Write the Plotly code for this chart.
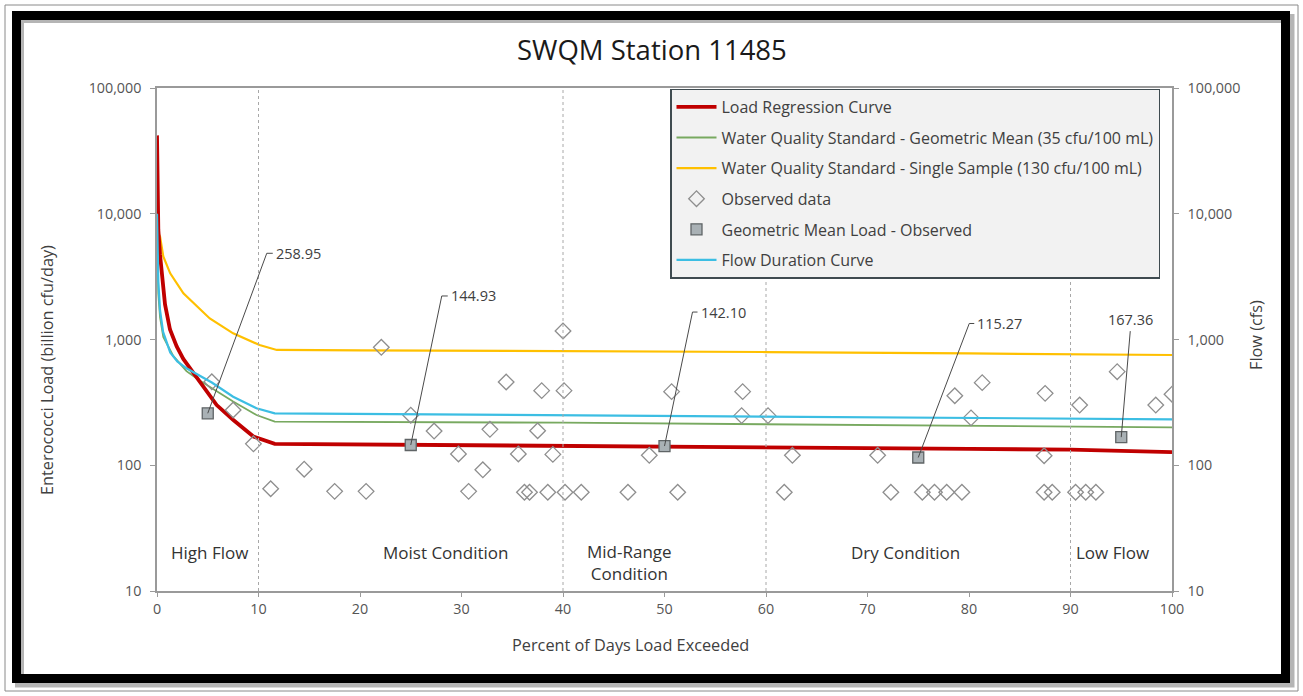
import math
import plotly.graph_objects as go

# ---------------- data ----------------
title_text = "SWQM Station 11485"

load_x = [0, 0.13, 0.3, 0.46, 0.79, 1.28, 1.94, 2.59, 3.58, 4.24, 5.88, 7.52, 9.5, 11.6, 20, 30, 40, 50, 60, 70, 80, 90, 100]
load_y = [42000, 7430, 4700, 3300, 1900, 1200, 880, 700, 540, 460, 301, 229, 169, 148, 146, 144, 142.5, 141, 139, 137, 135, 133, 127]

geo_x = [0, 0.13, 0.3, 0.62, 1.6, 2.9, 4.24, 5.9, 7.5, 9.8, 11.6, 40, 70, 100]
geo_y = [8900, 2300, 1500, 1050, 740, 560, 470, 385, 321, 251, 222, 218, 210, 200]

single_x = [0, 0.13, 0.3, 0.62, 1.3, 2.6, 5.2, 7.5, 10.1, 11.8, 20, 40, 60, 80, 100]
single_y = [33000, 7000, 6580, 4570, 3360, 2330, 1470, 1120, 904, 826, 820, 811, 795, 775, 753]

flow_x = [0, 0.13, 0.3, 0.6, 1.3, 2.0, 2.9, 4.24, 5.4, 7.5, 9.8, 11.6, 40, 70, 100]
flow_y = [10000, 2900, 1700, 1150, 790, 670, 590, 510, 455, 351, 284, 259, 251, 243, 232]

obs_x = [5.4, 7.5, 9.5, 11.2, 14.5, 17.5, 20.6, 22.1, 25.0, 27.3, 29.7, 30.7, 32.1, 32.8,
         34.4, 35.6, 36.2, 36.7, 37.5, 37.9, 38.5, 39.0, 40.0, 40.1, 40.2, 41.8, 46.4, 48.5,
         50.7, 51.3, 57.6, 57.7, 60.2, 61.8, 62.6, 71.0, 72.3, 75.4, 76.6, 77.8, 79.3, 78.6,
         80.2, 81.3, 87.5, 87.4, 87.4, 88.2, 90.5, 91.5, 92.5, 90.9, 94.6, 98.4, 100]
obs_y = [461, 275, 148, 65, 93, 62, 62, 867, 250, 187, 123, 62, 92, 193,
         459, 123, 61, 61, 188, 392, 61, 122, 1170, 392, 61, 61, 61, 120,
         385, 61, 248, 385, 248, 61, 120, 120, 61, 61, 61, 61, 61, 357,
         238, 454, 373, 119, 61, 61, 61, 61, 61, 301, 555, 301, 367]

gm_x = [5, 25, 50, 75, 95]
gm_y = [258.95, 144.93, 142.10, 115.27, 167.36]
gm_labels = ["258.95", "144.93", "142.10", "115.27", "167.36"]

zone_bounds = [10, 40, 60, 90]
zone_names = ["High Flow", "Moist Condition", "Mid-Range<br>Condition", "Dry Condition", "Low Flow"]
zone_label_x = [5.2, 28.4, 46.6, 73.7, 94.1]

x_ticks = [0, 10, 20, 30, 40, 50, 60, 70, 80, 90, 100]
y_ticks = [10, 100, 1000, 10000, 100000]
y_ticktext = ["10", "100", "1,000", "10,000", "100,000"]

# ---------------- layout geometry (pixels) ----------------
W, H = 1303, 696
L, R, T, B = 157, 1172, 88, 591
FONT = "Open Sans"
TXT = "#404040"


def px(xp):
    return (xp - L) / (R - L)


def py(yp):
    return (B - yp) / (B - T)


fig = go.Figure()

fig.add_trace(go.Scatter(x=single_x, y=single_y, mode="lines", name="Water Quality Standard - Single Sample (130 cfu/100 mL)",
                         line=dict(color="#ffc000", width=2.2), legendrank=3, legendgroup="g3"))
fig.add_trace(go.Scatter(x=geo_x, y=geo_y, mode="lines", name="Water Quality Standard - Geometric Mean (35 cfu/100 mL)",
                         line=dict(color="#78a960", width=1.8), legendrank=2, legendgroup="g2"))
fig.add_trace(go.Scatter(x=flow_x, y=flow_y, mode="lines", name="Flow Duration Curve", yaxis="y2",
                         line=dict(color="#3cbee3", width=2.2), legendrank=6, legendgroup="g6"))
fig.add_trace(go.Scatter(x=load_x, y=load_y, mode="lines", name="Load Regression Curve",
                         line=dict(color="#c00000", width=3.8), legendrank=1, legendgroup="g1"))
fig.add_trace(go.Scatter(x=obs_x, y=obs_y, mode="markers", name="Observed data",
                         marker=dict(symbol="diamond-open", size=12, color="#8e8e8e", line=dict(width=1.3)),
                         legendrank=4, legendgroup="g4"))
fig.add_trace(go.Scatter(x=gm_x, y=gm_y, mode="markers", name="Geometric Mean Load - Observed",
                         marker=dict(symbol="square", size=11, color="#a9b1b5", line=dict(color="#5f6466", width=1.3)),
                         legendrank=5, legendgroup="g5"))

shapes = []
# zone boundaries
for b in zone_bounds:
    shapes.append(dict(type="line", xref="x", yref="paper", x0=b, x1=b, y0=0, y1=1,
                       line=dict(color="#a8a8a8", width=1, dash="dot")))

# frame: outer thin border, shadow, black border
shapes.append(dict(type="rect", xref="paper", yref="paper", x0=px(5), x1=px(1298), y0=py(5), y1=py(691),
                   line=dict(color="#8a8a8a", width=1), layer="below"))
shapes.append(dict(type="rect", xref="paper", yref="paper", x0=px(19.5), x1=px(1290), y0=py(18.5), y1=py(683),
                   line=dict(color="rgba(120,120,120,0.55)", width=9), layer="below"))
shapes.append(dict(type="rect", xref="paper", yref="paper", x0=px(16.5), x1=px(1285.5), y0=py(15.5), y1=py(678.5),
                   line=dict(color="#000000", width=9), layer="below"))

# leader lines for geometric-mean labels (pixel offsets from each point)
leader_offsets = [(59, 160, 6), (31, 149, 6), (28, 134, 5), (51, 134, 5), (9, 106, 0)]
annotations = []
LBL = 14.5
for xv, yv, lab, (dx, dy, hl) in zip(gm_x, gm_y, gm_labels, leader_offsets):
    path = f"M0,0 L{dx},{dy}"
    if hl:
        path += f" L{dx + hl},{dy}"
    shapes.append(dict(type="path", xref="x", yref="y", xsizemode="pixel", ysizemode="pixel",
                       xanchor=xv, yanchor=yv, path=path, line=dict(color="#4a4a4a", width=1)))
    if hl:
        annotations.append(dict(x=xv, y=math.log10(yv), xref="x", yref="y", text=lab, showarrow=False,
                                xanchor="left", yanchor="middle", xshift=dx + hl + 1, yshift=dy,
                                font=dict(family=FONT, size=LBL, color=TXT)))
    else:
        annotations.append(dict(x=xv, y=math.log10(yv), xref="x", yref="y", text=lab, showarrow=False,
                                xanchor="center", yanchor="bottom", xshift=dx, yshift=dy,
                                font=dict(family=FONT, size=LBL, color=TXT)))

# zone labels
for name, zx in zip(zone_names, zone_label_x):
    two = "<br>" in name
    annotations.append(dict(x=zx, y=py(562 if two else 552), xref="x", yref="paper", text=name, showarrow=False,
                            xanchor="center", yanchor="middle",
                            font=dict(family=FONT, size=17, color="#333333")))

# axis titles
annotations.append(dict(x=px(630), y=py(645), xref="paper", yref="paper", text="Percent of Days Load Exceeded",
                        showarrow=False, xanchor="center", yanchor="middle",
                        font=dict(family=FONT, size=16.3, color=TXT)))
annotations.append(dict(x=px(47), y=py(370), xref="paper", yref="paper", text="Enterococci Load (billion cfu/day)",
                        showarrow=False, xanchor="center", yanchor="middle", textangle=-90,
                        font=dict(family=FONT, size=16.3, color=TXT)))
annotations.append(dict(x=px(1256), y=py(335), xref="paper", yref="paper", text="Flow (cfs)",
                        showarrow=False, xanchor="center", yanchor="middle", textangle=-90,
                        font=dict(family=FONT, size=16.3, color=TXT)))
annotations.append(dict(x=px(651.5), y=py(49), xref="paper", yref="paper", text=title_text,
                        showarrow=False, xanchor="center", yanchor="middle",
                        font=dict(family=FONT, size=27.5, color="#1a1a1a")))

yaxis_common = dict(type="log", range=[1, 5], tickvals=y_ticks, ticktext=y_ticktext,
                    showgrid=False, zeroline=False, showline=True, linecolor="#9a9a9a", linewidth=1.5,
                    ticks="outside", ticklen=5, tickcolor="#9a9a9a",
                    tickfont=dict(family=FONT, size=14.3, color="#555555"), ticklabelstandoff=6)

fig.update_layout(
    width=W, height=H,
    margin=dict(l=L, r=W - R, t=T, b=H - B),
    paper_bgcolor="white", plot_bgcolor="white",
    showlegend=True,
    legend=dict(x=px(670), y=py(88.5), xanchor="left", yanchor="top", bgcolor="#f2f2f2",
                bordercolor="#3f4b50", borderwidth=1.5, tracegroupgap=6.8, itemwidth=40,
                font=dict(family=FONT, size=16, color=TXT)),
    xaxis=dict(range=[0, 100], tickvals=x_ticks, showgrid=False, zeroline=False, showline=True, mirror=True,
               linecolor="#9a9a9a", linewidth=1.5, ticks="outside", ticklen=4, tickcolor="#9a9a9a",
               tickfont=dict(family=FONT, size=14.3, color="#555555")),
    yaxis=dict(**yaxis_common),
    yaxis2=dict(**yaxis_common, overlaying="y", side="right", anchor="x"),
    shapes=shapes,
    annotations=annotations,
)

fig.write_html("out.html", config={"displayModeBar": False},
               post_script="document.body.style.margin='0';document.body.style.overflow='hidden';")
